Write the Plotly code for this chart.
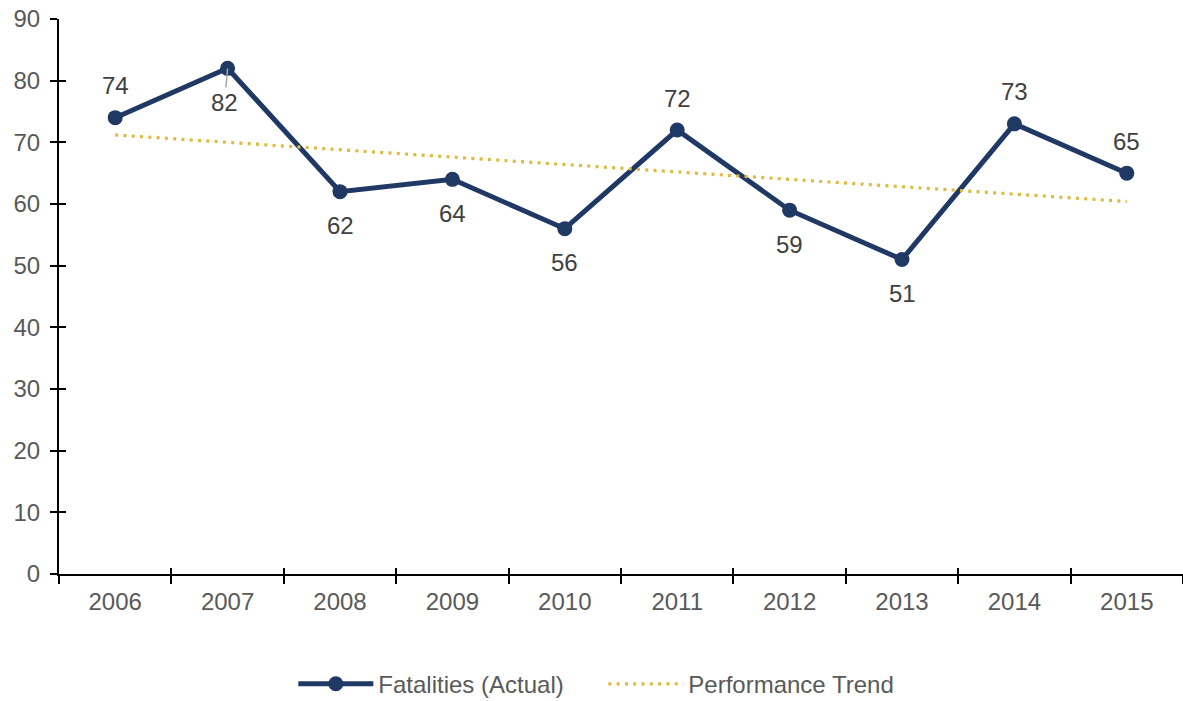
import plotly.graph_objects as go

years = ["2006", "2007", "2008", "2009", "2010", "2011", "2012", "2013", "2014", "2015"]
fatalities = [74, 82, 62, 64, 56, 72, 59, 51, 73, 65]
trend = [71.2, 70.0, 68.8, 67.6, 66.4, 65.2, 64.0, 62.8, 61.6, 60.4]
label_side = ["above", "below", "below", "below", "below", "above", "below", "below", "above", "above"]
y_ticks = [0, 10, 20, 30, 40, 50, 60, 70, 80, 90]

NAVY = "#1F3864"
GOLD = "#E2B93B"
TXT = "#595959"
FONT = "Liberation Sans, Arial, sans-serif"

fig = go.Figure()
fig.add_trace(go.Scatter(
    x=years, y=fatalities, name="Fatalities (Actual)", mode="lines+markers",
    line=dict(color=NAVY, width=5), marker=dict(color=NAVY, size=15),
))
fig.add_trace(go.Scatter(
    x=years, y=trend, name="Performance Trend", mode="lines",
    line=dict(color=GOLD, width=3.2, dash="3px,5.3px"),
))
# invisible trace for secondary (inner-tick) axes
fig.add_trace(go.Scatter(x=years, y=fatalities, xaxis="x2", yaxis="y2",
                         mode="markers", marker=dict(opacity=0), showlegend=False,
                         hoverinfo="skip"))

for i, (v, side) in enumerate(zip(fatalities, label_side)):
    if years[i] == "2007":
        fig.add_annotation(x=i, y=v, text=str(v), showarrow=True, arrowhead=0,
                           arrowcolor="#A6A6A6", arrowwidth=1.5, ax=-3, ay=34,
                           standoff=0, font=dict(family=FONT, size=24, color="#404040"))
    else:
        fig.add_annotation(x=i, y=v, text=str(v), showarrow=False,
                           yshift=32 if side == "above" else -34,
                           font=dict(family=FONT, size=24, color="#404040"))

axis_common = dict(showgrid=False, zeroline=False)
fig.update_layout(
    width=1183, height=701,
    margin=dict(l=59, r=0, t=19, b=127, autoexpand=False),
    paper_bgcolor="white", plot_bgcolor="white",
    font=dict(family=FONT, size=24, color=TXT),
    xaxis=dict(type="category", categoryarray=years, range=[-0.5, 9.5],
               tickson="boundaries", ticks="outside", ticklen=8, tickwidth=2,
               tickcolor="black", showline=True, linecolor="black", linewidth=2,
               ticklabelstandoff=5, ticklabeloverflow="allow",
               tickfont=dict(family=FONT, size=24, color=TXT), **axis_common),
    yaxis=dict(range=[0, 90], tickvals=y_ticks, ticks="outside", ticklen=7,
               tickwidth=2, tickcolor="black", showline=True, linecolor="black",
               linewidth=2, ticklabelstandoff=5, ticklabeloverflow="allow",
               tickfont=dict(family=FONT, size=24, color=TXT),
               **axis_common),
    xaxis2=dict(type="category", categoryarray=years, range=[-0.5, 9.5],
                overlaying="x", anchor="y", side="bottom", tickson="boundaries",
                ticks="inside", ticklen=6, tickwidth=2, tickcolor="black",
                showticklabels=False, showline=False, **axis_common),
    yaxis2=dict(range=[0, 90], tickvals=y_ticks, overlaying="y", anchor="x",
                side="left", ticks="inside", ticklen=7, tickwidth=2,
                tickcolor="black", showticklabels=False, showline=False,
                **axis_common),
    showlegend=True,
    legend=dict(orientation="h", xref="container", yref="container",
                x=0.51, y=0.024, xanchor="center", yanchor="middle",
                itemwidth=75, entrywidth=220,
                font=dict(family=FONT, size=24, color=TXT),
                bgcolor="rgba(0,0,0,0)"),
)

fig.write_html("out.html", config={"displayModeBar": False},
               post_script="document.body.style.margin='0';")
